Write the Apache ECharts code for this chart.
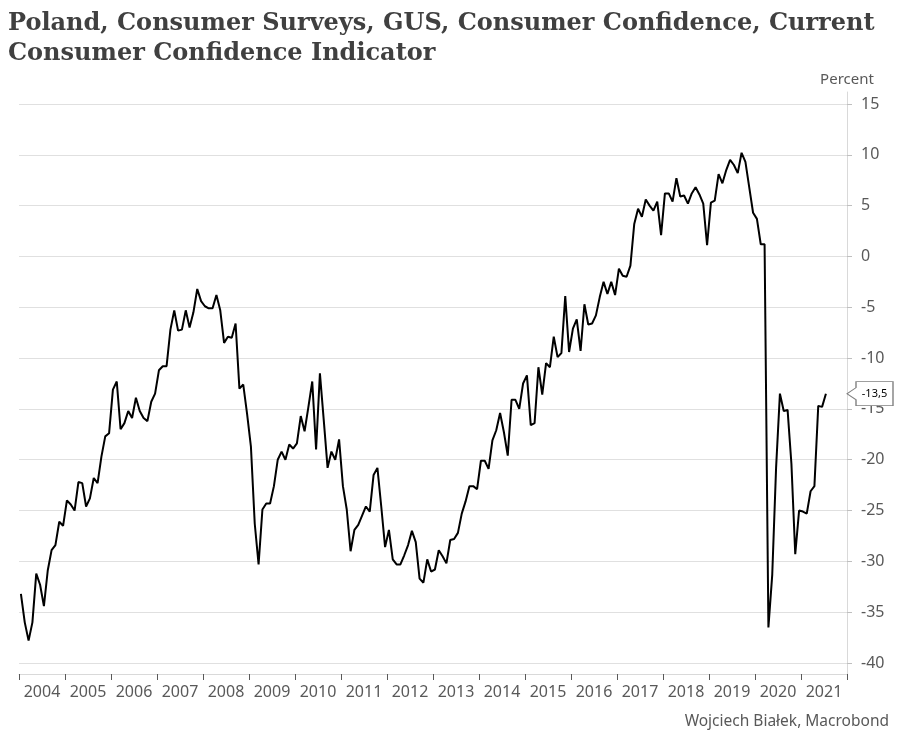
<!DOCTYPE html>
<html>
<head>
<meta charset="utf-8">
<script src="https://cdn.jsdelivr.net/npm/echarts@6/dist/echarts.min.js"></script>
<style>
html,body{margin:0;padding:0;background:#fff;}
#chart{width:900px;height:745px;}
</style>
</head>
<body>
<div id="chart"></div>
<script>
// Category labels (years on the x axis)
var years = ['2004','2005','2006','2007','2008','2009','2010','2011','2012','2013','2014','2015','2016','2017','2018','2019','2020','2021'];
var startYear = 2004;
var monthsOnAxis = 216; // Jan 2004 .. Dec 2021

// Monthly values, Jan 2004 .. Jul 2021 (percent)
var values2004_2007 = [
  -33.2,-36.0,-37.8,-36.0,-31.2,-32.3,-34.4,-30.9,-28.9,-28.4,-26.1,-26.5,
  -24.0,-24.4,-25.0,-22.2,-22.3,-24.6,-23.8,-21.8,-22.3,-19.7,-17.7,-17.4,
  -13.1,-12.3,-17.0,-16.4,-15.2,-15.9,-13.9,-15.2,-15.9,-16.2,-14.3,-13.5,
  -11.2,-10.8,-10.8,-7.2,-5.3,-7.3,-7.2,-5.3,-7.0,-5.5,-3.2,-4.4
];
var values2008_2011 = [
  -4.9,-5.1,-5.1,-3.8,-5.3,-8.5,-7.9,-8.0,-6.6,-13.0,-12.6,-15.5,
  -18.7,-26.3,-30.3,-24.9,-24.3,-24.3,-22.6,-20.0,-19.2,-20.0,-18.5,-18.9,
  -18.4,-15.7,-17.2,-14.8,-12.3,-19.0,-11.5,-16.1,-20.8,-19.2,-20.0,-18.0,
  -22.6,-24.9,-29.0,-26.9,-26.4,-25.5,-24.6,-25.1,-21.5,-20.8,-24.6,-28.6
];
var values2012_2015 = [
  -26.9,-29.8,-30.3,-30.3,-29.4,-28.4,-27.0,-28.1,-31.7,-32.1,-29.8,-31.0,
  -30.8,-28.9,-29.5,-30.2,-27.9,-27.8,-27.2,-25.3,-24.1,-22.6,-22.6,-22.9,
  -20.1,-20.1,-20.9,-18.1,-17.1,-15.4,-17.3,-19.6,-14.1,-14.1,-15.0,-12.5,
  -11.7,-16.6,-16.4,-10.9,-13.6,-10.5,-10.9,-7.9,-9.9,-9.5,-3.9,-9.4
];
var values2016_2021 = [
  -7.1,-6.2,-9.3,-4.7,-6.7,-6.6,-5.8,-4.0,-2.5,-3.7,-2.5,-3.8,
  -1.2,-1.9,-2.0,-0.9,3.2,4.7,3.9,5.6,5.0,4.5,5.4,2.1,
  6.2,6.2,5.4,7.7,5.9,6.0,5.2,6.2,6.8,6.1,5.2,1.1,
  5.3,5.5,8.1,7.2,8.5,9.5,9.0,8.2,10.2,9.3,6.8,4.3,
  3.7,1.2,1.2,-36.5,-31.3,-20.8,-13.5,-15.2,-15.1,-20.4,-29.3,-25.0,
  -25.1,-25.3,-23.1,-22.6,-14.7,-14.8,-13.5
];

// Y tick settings
var yMin = -40, yMax = 15, yStep = 5;

var allValues = values2004_2007.concat(values2008_2011, values2012_2015, values2016_2021);
var seriesData = allValues.map(function (v, i) { return [i + 0.5, v]; });
var lastValue = allValues[allValues.length - 1];

var FONT = '"Noto Sans", sans-serif';
var chart = echarts.init(document.getElementById('chart'), null, {renderer: 'canvas'});
chart.setOption({
  animation: false,
  backgroundColor: '#fff',
  title: [{
    text: 'Poland, Consumer Surveys, GUS, Consumer Confidence, Current\nConsumer Confidence Indicator',
    left: 8, top: 9, padding: 0,
    textStyle: {fontFamily: '"DejaVu Serif", serif', fontWeight: 'bold', fontSize: 24, lineHeight: 30, color: '#404040'}
  }, {
    text: 'Wojciech Białek, Macrobond',
    right: 11, top: 714, padding: 0,
    textStyle: {fontFamily: FONT, fontWeight: 'normal', fontSize: 15.5, color: '#595959'}
  }],
  grid: [
    {left: 19, right: 53, top: 104, bottom: 82, containLabel: false, outerBoundsMode: 'none'},
    {left: 19, right: 53, top: 92, bottom: 71, containLabel: false, outerBoundsMode: 'none'}
  ],
  xAxis: [
    {type: 'value', gridIndex: 0, min: 0, max: monthsOnAxis, show: false},
    {type: 'value', gridIndex: 1, min: 0, max: monthsOnAxis, interval: 12,
      axisLine: {show: true, onZero: false, lineStyle: {color: '#d9d9d9', width: 1}},
      axisTick: {show: true, length: 6, lineStyle: {color: '#595959', width: 1}},
      axisLabel: {show: false}, splitLine: {show: false}},
    {type: 'category', gridIndex: 1, data: years, boundaryGap: true, position: 'bottom',
      axisLine: {show: false, onZero: false}, axisTick: {show: false}, splitLine: {show: false},
      axisLabel: {show: true, interval: 0, margin: 10, fontFamily: FONT, fontSize: 16, color: '#595959'}}
  ],
  yAxis: [
    {type: 'value', gridIndex: 0, position: 'right', min: yMin, max: yMax, interval: yStep,
      axisLine: {show: false, onZero: false},
      axisTick: {show: true, length: 5, lineStyle: {color: '#bfbfbf'}},
      splitLine: {show: true, lineStyle: {color: '#e0e0e0', width: 1}},
      axisLabel: {margin: 14, fontFamily: FONT, fontSize: 16, color: '#595959'}},
    {type: 'value', gridIndex: 1, position: 'right', min: 0, max: 1,
      name: 'Percent', nameLocation: 'end', nameGap: 5,
      nameTextStyle: {fontFamily: FONT, fontSize: 15, color: '#595959'},
      axisLine: {show: true, onZero: false, lineStyle: {color: '#d9d9d9', width: 1}},
      axisTick: {show: false}, axisLabel: {show: false}, splitLine: {show: false}}
  ],
  series: [{
    type: 'line',
    xAxisIndex: 0, yAxisIndex: 0,
    data: seriesData,
    showSymbol: false,
    lineStyle: {color: '#000', width: 2},
    itemStyle: {color: '#000'},
    clip: false,
    markPoint: {
      silent: true,
      symbol: 'path://M0,12 L9,6 L9,0 L46,0 L46,24 L9,24 L9,18 Z',
      symbolSize: [46, 24],
      symbolKeepAspect: false,
      symbolOffset: [23, 0],
      itemStyle: {color: '#fff', borderColor: '#7f7f7f', borderWidth: 1},
      label: {show: true, position: 'inside', offset: [4.5, 0], color: '#000', fontFamily: FONT, fontSize: 11,
        formatter: function (p) { return String(p.value).replace('.', ','); }},
      data: [{coord: [monthsOnAxis, lastValue], value: lastValue}]
    }
  }]
});
</script>
</body>
</html>
